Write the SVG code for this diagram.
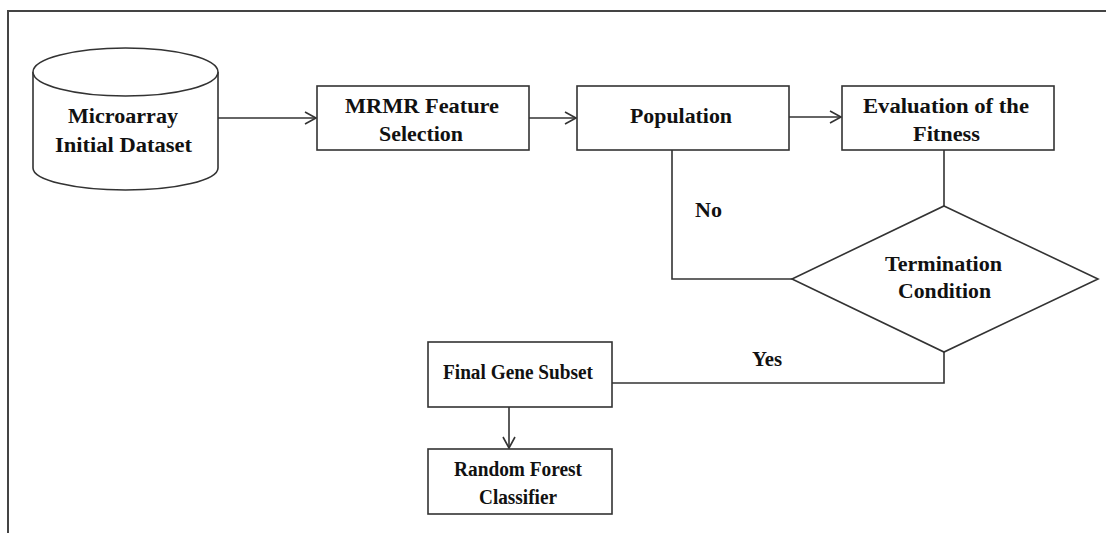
<svg xmlns="http://www.w3.org/2000/svg" width="1106" height="533" viewBox="0 0 1106 533">
<style>
.s{fill:#fff;stroke:#333;stroke-width:1.6}
.c{fill:none;stroke:#333;stroke-width:1.6}
.t{font-family:"Liberation Serif","Times New Roman",serif;font-weight:bold;font-size:20.5px;fill:#111;text-anchor:middle}
</style>
<defs>
<marker id="arr" markerUnits="userSpaceOnUse" markerWidth="14" markerHeight="14" refX="12" refY="7" orient="auto">
<path d="M1,1 L12,7 L1,13" fill="none" stroke="#333" stroke-width="1.6"/>
</marker>
</defs>
<rect width="1106" height="533" fill="#fff"/>
<g id="frame">
<path d="M8,533 L8,11 L1106,11" fill="none" stroke="#444" stroke-width="2"/>
</g>
<g id="connectors">
<line class="c" x1="218" y1="118" x2="316" y2="118" marker-end="url(#arr)"/>
<line class="c" x1="529" y1="118" x2="576" y2="118" marker-end="url(#arr)"/>
<line class="c" x1="789" y1="117" x2="841" y2="117" marker-end="url(#arr)"/>
<line class="c" x1="944" y1="150" x2="944" y2="206"/>
<polyline class="c" points="792,279 672,279 672,150"/>
<polyline class="c" points="944,352 944,383 612,383"/>
<line class="c" x1="509" y1="407" x2="509" y2="448" marker-end="url(#arr)"/>
<text class="t" x="708.5" y="217" textLength="27" lengthAdjust="spacingAndGlyphs">No</text>
<text class="t" x="767" y="366" textLength="30" lengthAdjust="spacingAndGlyphs">Yes</text>
</g>
<g id="microarray">
<path class="s" d="M33,72 L33,168 A92.5,22 0 0 0 218,168 L218,72"/>
<ellipse class="s" cx="125.5" cy="72" rx="92.5" ry="24"/>
<text class="t" x="123" y="123" textLength="110" lengthAdjust="spacingAndGlyphs">Microarray</text>
<text class="t" x="123.5" y="152" textLength="137" lengthAdjust="spacingAndGlyphs">Initial Dataset</text>
</g>
<g id="mrmr">
<rect class="s" x="317" y="86" width="212" height="64"/>
<text class="t" x="422" y="113" textLength="154" lengthAdjust="spacingAndGlyphs">MRMR Feature</text>
<text class="t" x="421" y="141" textLength="84" lengthAdjust="spacingAndGlyphs">Selection</text>
</g>
<g id="population">
<rect class="s" x="577" y="86" width="212" height="64"/>
<text class="t" x="681" y="123" textLength="102" lengthAdjust="spacingAndGlyphs">Population</text>
</g>
<g id="evaluation">
<rect class="s" x="842" y="86" width="212" height="64"/>
<text class="t" x="946" y="113" textLength="166" lengthAdjust="spacingAndGlyphs">Evaluation of the</text>
<text class="t" x="946.5" y="141" textLength="67" lengthAdjust="spacingAndGlyphs">Fitness</text>
</g>
<g id="termination">
<polygon class="s" points="944,206 1098,279 944,352 792,279"/>
<text class="t" x="943.5" y="271" textLength="117" lengthAdjust="spacingAndGlyphs">Termination</text>
<text class="t" x="944.5" y="298" textLength="93" lengthAdjust="spacingAndGlyphs">Condition</text>
</g>
<g id="final">
<rect class="s" x="428" y="342" width="184" height="65"/>
<text class="t" x="518" y="379" textLength="150" lengthAdjust="spacingAndGlyphs">Final Gene Subset</text>
</g>
<g id="rf">
<rect class="s" x="428" y="449" width="184" height="65"/>
<text class="t" x="518" y="476" textLength="128" lengthAdjust="spacingAndGlyphs">Random Forest</text>
<text class="t" x="518" y="504" textLength="78" lengthAdjust="spacingAndGlyphs">Classifier</text>
</g>
</svg>
